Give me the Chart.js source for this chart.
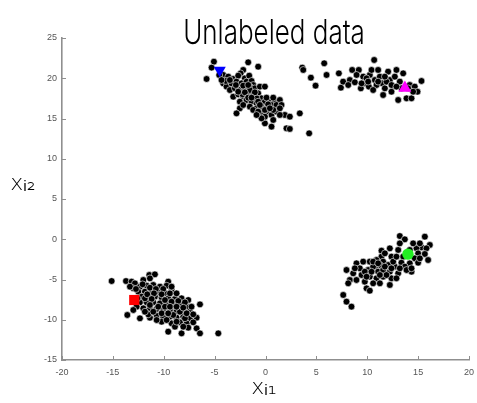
<!DOCTYPE html>
<html>
<head>
<meta charset="utf-8">
<script src="https://cdn.jsdelivr.net/npm/chart.js@4.4.0/dist/chart.umd.min.js"></script>
<style>
  html, body { margin: 0; padding: 0; background: #fff; }
</style>
</head>
<body>
<canvas id="chart" width="477" height="403"></canvas>
<script>
// points, [x_i1, x_i2]
const clusterA = [
  [-5.07,22.06],[-5.79,19.91],[-5.30,21.32],[-1.70,21.98],[-0.72,21.44],[-2.19,21.03],[-2.45,20.61],
  [-4.16,20.41],[-3.66,20.20],[-3.17,19.91],[-2.68,20.32],[-2.03,19.99],[-1.60,20.32],[-4.16,19.37],
  [-3.83,18.96],[-3.34,19.37],[-2.85,19.58],[-2.36,19.37],[-1.86,19.58],[-1.37,19.66],[-1.21,19.16],
  [-3.50,18.54],[-3.01,18.75],[-2.52,18.54],[-2.03,18.75],[-1.54,18.96],[-1.05,18.75],[-0.55,18.96],
  [-0.06,18.96],[-3.17,17.71],[-2.68,18.00],[-2.19,17.71],[-1.70,18.13],[-1.21,17.92],[-0.72,18.13],
  [-0.39,17.51],[-2.52,17.09],[-1.86,17.30],[-1.37,17.09],[-0.88,16.89],[-0.06,17.09],[0.43,17.30],
  [0.92,17.09],[1.41,17.30],[-1.54,16.47],[-0.88,16.27],[-0.39,16.47],[0.10,16.27],[0.59,16.68],
  [1.08,16.68],[1.57,16.68],[-2.52,16.27],[-2.85,15.64],[-1.21,16.06],[-0.39,15.64],[0.10,15.85],
  [0.59,15.44],[1.08,15.85],[1.41,16.27],[1.90,15.44],[2.39,15.23],[3.37,15.64],[-0.06,14.40],
  [0.59,13.99],[2.06,13.78],[2.39,13.70],[4.29,13.16],[-0.06,15.23],[-0.72,15.85],[-1.54,18.54],
  [-0.88,17.51],[-2.19,16.68],[-4.55,20.40],[-3.89,19.66],[-2.26,18.00],[-0.72,17.09],[0.76,16.06],
  [-0.39,15.02],[-4.32,19.78],[-3.50,19.78],[-2.91,19.16],[-2.19,19.08],[-1.70,19.16],[-2.68,18.33],
  [-2.03,18.25],[-1.05,18.25],[-1.70,17.59],[-1.37,17.59],[0.10,17.59],[0.76,17.59],[-0.55,16.68],
  [0.26,16.76],[-0.06,16.06],[0.43,16.27],[-0.88,15.44],[1.41,15.44],[0.76,14.82]
];
const clusterB = [
  [3.61,21.32],[3.71,21.03],[4.46,20.07],[4.92,19.08],[5.77,21.86],[6.00,20.41],[7.21,20.61],
  [7.41,18.83],[7.63,19.58],[8.29,19.78],[8.52,21.03],[9.17,21.03],[8.78,19.50],[9.60,20.20],
  [9.76,19.37],[10.25,20.41],[10.42,21.03],[10.68,22.27],[10.75,19.78],[10.16,18.96],[11.24,20.20],
  [11.47,19.37],[11.73,18.75],[11.56,17.92],[12.05,20.82],[12.22,19.78],[12.55,18.96],[12.87,21.03],
  [12.71,20.20],[13.20,19.58],[13.04,17.30],[13.53,20.61],[13.86,17.51],[14.35,17.51],[14.18,19.16],
  [14.67,18.96],[14.94,18.33],[15.33,19.66],[9.37,18.75],[9.93,19.99],[10.91,19.16],[11.89,19.58],
  [12.38,18.33],[13.36,18.75],[8.13,19.16],[8.95,20.41],[11.07,21.03],[10.58,18.54],[9.44,19.37],
  [10.09,19.58],[11.07,19.58],[11.73,20.20],[12.38,19.16],[12.87,18.96],[14.02,18.75],[14.51,18.33]
];
const clusterC = [
  [-15.12,-5.19],[-13.71,-5.19],[-13.16,-5.27],[-12.83,-5.48],[-12.01,-5.06],[-11.42,-4.44],[-10.87,-4.36],
  [-11.36,-4.86],[-9.56,-5.27],[-9.72,-5.77],[-9.23,-6.31],[-12.34,-5.89],[-11.68,-5.77],[-11.03,-5.68],
  [-10.37,-5.89],[-12.50,-6.51],[-11.85,-6.51],[-11.19,-6.43],[-10.54,-6.59],[-9.88,-6.72],[-12.17,-7.13],
  [-11.52,-7.13],[-10.87,-7.13],[-10.21,-7.26],[-9.56,-7.34],[-8.90,-7.42],[-8.25,-7.34],[-7.59,-7.55],
  [-12.34,-7.84],[-11.68,-7.84],[-11.03,-7.84],[-10.37,-7.96],[-9.72,-8.09],[-9.07,-8.09],[-8.41,-8.17],
  [-7.75,-8.38],[-6.44,-8.09],[-12.01,-8.58],[-11.36,-8.58],[-10.70,-8.66],[-10.05,-8.79],[-9.39,-8.79],
  [-8.74,-8.91],[-8.08,-9.00],[-7.43,-9.00],[-13.58,-9.41],[-12.34,-9.82],[-11.36,-9.74],[-10.70,-9.49],
  [-10.05,-9.62],[-9.39,-9.62],[-8.74,-9.74],[-8.08,-9.62],[-7.43,-9.82],[-6.77,-9.74],[-9.23,-10.45],
  [-8.41,-10.32],[-7.75,-10.45],[-7.10,-10.32],[-8.90,-10.86],[-7.59,-10.98],[-9.56,-11.48],[-8.25,-11.69],
  [-6.77,-11.07],[-6.44,-11.69],[-4.64,-11.69],[-12.67,-8.38],[-12.99,-8.79],[-9.39,-6.72],[-8.74,-6.72],
  [-9.23,-5.89],[-11.52,-9.33],[-10.21,-10.24],[-11.85,-7.34],[-10.54,-8.38],[-9.88,-8.38],[-8.41,-9.00],
  [-9.07,-9.41],[-7.92,-9.82],[-11.03,-9.00],[-11.36,-6.02],[-12.99,-6.10],[-13.32,-5.89],[-12.73,-6.18],
  [-12.08,-5.60],[-10.77,-6.18],[-10.05,-6.18],[-11.62,-6.84],[-10.96,-6.72],[-10.21,-6.84],[-12.60,-7.34],
  [-11.19,-7.42],[-9.88,-7.55],[-9.23,-7.75],[-8.57,-7.67],[-7.92,-7.84],[-11.36,-8.17],[-9.39,-8.38],
  [-8.74,-8.38],[-8.08,-8.50],[-7.27,-8.38],[-10.21,-9.20],[-9.56,-9.20],[-7.75,-9.20],[-7.10,-9.33],
  [-9.72,-10.03],[-8.74,-10.24],[-8.08,-10.86],[-10.70,-10.03],[-11.85,-9.00]
];
const clusterD = [
  [13.20,0.40],[13.69,-0.01],[15.66,0.32],[16.15,-0.71],[15.33,-1.00],[14.84,-1.13],[15.82,-1.13],
  [12.22,-1.13],[13.04,-1.33],[13.53,-2.16],[15.00,-1.75],[15.66,-1.83],[14.67,-2.37],[15.98,-2.58],
  [13.36,-2.91],[14.18,-2.99],[15.00,-2.91],[11.40,-1.42],[12.38,-2.16],[13.69,-3.40],[14.35,-4.03],
  [11.40,-2.16],[10.91,-2.58],[11.56,-2.78],[9.60,-2.78],[10.25,-2.78],[8.94,-2.99],[11.24,-3.20],
  [12.06,-3.20],[12.71,-3.40],[9.27,-3.61],[10.09,-3.82],[10.75,-3.61],[11.07,-4.03],[11.56,-3.82],
  [12.22,-4.03],[13.04,-4.23],[7.96,-3.82],[8.62,-4.23],[9.44,-4.44],[10.25,-4.65],[10.91,-4.85],
  [11.56,-4.65],[12.38,-4.85],[8.29,-5.06],[8.94,-5.06],[9.76,-5.27],[10.58,-5.47],[11.24,-5.47],
  [12.22,-5.68],[9.93,-6.10],[10.25,-6.39],[8.13,-5.47],[7.64,-6.92],[7.96,-7.75],[8.45,-8.37],
  [12.87,-4.85],[13.86,-3.82],[13.20,-3.61],[11.73,-1.75],[10.58,-3.40],[9.76,-4.03],[11.89,-4.44],
  [14.51,-0.51],[15.17,-0.51],[13.20,-0.51],[14.35,-3.61],[10.58,-2.78],[11.07,-2.99],[11.73,-3.40],
  [12.38,-3.61],[10.42,-4.03],[12.55,-2.78],[12.87,-2.16],[14.18,-1.33],[15.17,-2.37],[8.78,-3.61],
  [9.93,-4.65],[11.24,-4.44]
];
// highlighted points
const redSquare = [[-12.9, -7.55]];
const blueTriangle = [[-4.5, 21.0]];
const magentaTriangle = [[13.7, 18.8]];
const greenCircle = [[14.0, -1.85]];

const xMin = -20, xMax = 20, yMin = -15, yMax = 25, step = 5;
const axisColor = '#8f8f8f';
const tickFont = { family: 'Liberation Sans, Arial, sans-serif', size: 9 };

const toXY = arr => arr.map(p => ({ x: p[0], y: p[1] }));
const allBlack = [...clusterA, ...clusterB, ...clusterC, ...clusterD];

const axisDecor = {
  id: 'axisDecor',
  afterDraw(chart) {
    const { ctx, chartArea, scales } = chart;
    ctx.save();
    ctx.strokeStyle = axisColor;
    ctx.lineWidth = 1;
    scales.x.ticks.forEach(t => {
      const px = Math.round(scales.x.getPixelForValue(t.value)) + 0.5;
      ctx.beginPath();
      ctx.moveTo(px, chartArea.bottom);
      ctx.lineTo(px, chartArea.bottom - 4);
      ctx.stroke();
    });
    scales.y.ticks.forEach(t => {
      const py = Math.round(scales.y.getPixelForValue(t.value)) + 0.5;
      ctx.beginPath();
      ctx.moveTo(chartArea.left, py);
      ctx.lineTo(chartArea.left + 4, py);
      ctx.stroke();
    });
    ctx.fillStyle = '#000';
    ctx.textAlign = 'center';
    ctx.textBaseline = 'alphabetic';
    // title, stretched vertically to look like the tall hand lettering
    ctx.save();
    ctx.translate(274, 44);
    ctx.scale(1, 1.3);
    ctx.font = '300 26px Inter, "DejaVu Sans", sans-serif';
    ctx.fillText('Unlabeled data', 0, 0);
    ctx.restore();
    ctx.font = '200 22px "DejaVu Sans", sans-serif';
    ctx.fillText('xᵢ₁', 264, 394);
    ctx.fillText('xᵢ₂', 23, 190);
    ctx.restore();
  }
};

new Chart(document.getElementById('chart'), {
  type: 'scatter',
  data: {
    datasets: [
      { data: toXY(redSquare), pointStyle: 'rect', pointRadius: 7.2, backgroundColor: '#ff0000', borderColor: '#ff0000', borderWidth: 0 },
      { data: toXY(blueTriangle), pointStyle: 'triangle', rotation: 180, pointRadius: 7, backgroundColor: '#0000ff', borderColor: '#0000ff', borderWidth: 0 },
      { data: toXY(magentaTriangle), pointStyle: 'triangle', pointRadius: 7.5, backgroundColor: '#ff00ff', borderColor: '#ff00ff', borderWidth: 0 },
      { data: toXY(greenCircle), pointStyle: 'circle', pointRadius: 5.7, backgroundColor: '#22ee22', borderColor: '#22ee22', borderWidth: 0 },
      { data: toXY(allBlack), pointStyle: 'circle', pointRadius: 3.4, backgroundColor: '#000', borderColor: '#ffffff', borderWidth: 0.6 }
    ]
  },
  options: {
    responsive: false,
    animation: false,
    events: [],
    layout: { padding: { top: 38, right: 8, left: 0, bottom: 0 } },
    plugins: { legend: { display: false }, tooltip: { enabled: false }, title: { display: false } },
    scales: {
      x: {
        type: 'linear', min: xMin, max: xMax,
        ticks: { stepSize: step, color: '#555', font: tickFont, padding: 7, maxRotation: 0 },
        grid: { drawOnChartArea: false, drawTicks: false },
        border: { display: true, color: axisColor, width: 1.6 },
        afterFit: s => { s.height = 43; s.paddingLeft = 5; s.paddingRight = 5; }
      },
      y: {
        type: 'linear', min: yMin, max: yMax,
        ticks: { stepSize: step, color: '#555', font: tickFont, padding: 5 },
        grid: { drawOnChartArea: false, drawTicks: false },
        border: { display: true, color: axisColor, width: 1.6 },
        afterFit: s => { s.width = 62; }
      }
    }
  },
  plugins: [axisDecor]
});
</script>
</body>
</html>
